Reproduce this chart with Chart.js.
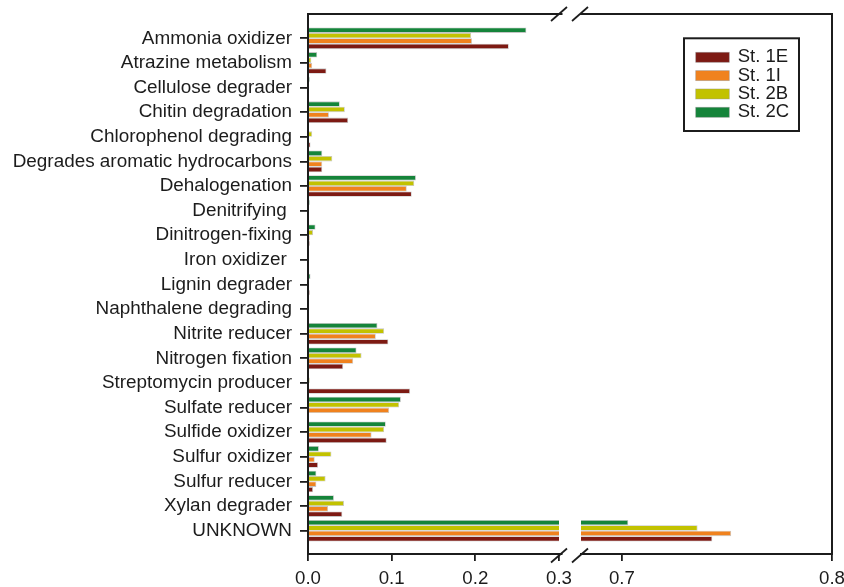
<!DOCTYPE html>
<html>
<head>
<meta charset="utf-8">
<script src="https://cdn.jsdelivr.net/npm/chart.js@4.4.1/dist/chart.umd.min.js"></script>
<style>
  html, body { margin: 0; padding: 0; background: #fff; overflow: hidden; }
  #wrap { position: absolute; left: 0; top: 0; width: 844px; height: 587px; }
  canvas { display: block; position: absolute; top: 0; }
  #left { left: 0; }
  #right { left: 570px; }
</style>
</head>
<body>
<div id="wrap">
  <canvas id="left" width="580" height="587"></canvas>
  <canvas id="right" width="274" height="587"></canvas>
</div>
<script>
// Categories, top to bottom
const categories = [
  'Ammonia oxidizer', 'Atrazine metabolism', 'Cellulose degrader', 'Chitin degradation',
  'Chlorophenol degrading', 'Degrades aromatic hydrocarbons', 'Dehalogenation', 'Denitrifying ',
  'Dinitrogen-fixing', 'Iron oxidizer ', 'Lignin degrader', 'Naphthalene degrading',
  'Nitrite reducer', 'Nitrogen fixation', 'Streptomycin producer', 'Sulfate reducer',
  'Sulfide oxidizer', 'Sulfur oxidizer', 'Sulfur reducer', 'Xylan degrader', 'UNKNOWN'
];

// Values per station (same order as categories)
const st1E = [0.240, 0.022, 0, 0.048, 0.003, 0.017, 0.124, 0, 0.002, 0, 0.002, 0,
              0.096, 0.042, 0.122, 0, 0.094, 0.012, 0.006, 0.041, 0.743];
const st1I = [0.196, 0.005, 0, 0.025, 0, 0.017, 0.118, 0, 0.002, 0, 0.001, 0,
              0.081, 0.054, 0, 0.097, 0.076, 0.008, 0.010, 0.024, 0.752];
const st2B = [0.195, 0.004, 0, 0.044, 0.005, 0.029, 0.127, 0, 0.006, 0, 0.001, 0,
              0.091, 0.064, 0.002, 0.109, 0.091, 0.028, 0.021, 0.043, 0.736];
const st2C = [0.261, 0.011, 0.002, 0.038, 0, 0.017, 0.129, 0.002, 0.009, 0, 0.003, 0,
              0.083, 0.058, 0, 0.111, 0.093, 0.013, 0.010, 0.031, 0.703];

const seriesNames = ['St. 1E', 'St. 1I', 'St. 2B', 'St. 2C'];
const seriesColors = ['#7d1a13', '#f0821e', '#c2c200', '#15843a'];

// Tick labels of the two panels of the broken x axis
const leftTicks = [0.0, 0.1, 0.2, 0.3];
const rightTicks = [0.7, 0.8];

const INK = '#1c1c1c';
const FONT = "'Liberation Sans', Arial, Helvetica, sans-serif";
const EDGE = 'rgba(140,140,140,0.5)';

Chart.defaults.font.family = FONT;
Chart.defaults.color = INK;

function buildDatasets() {
  const values = [st1E, st1I, st2B, st2C];
  // St. 2C at the top of each group, St. 1E at the bottom
  return [3, 2, 1, 0].map(k => ({
    label: seriesNames[k],
    data: values[k].map((v, i) => ({ x: v, y: i })),
    backgroundColor: seriesColors[k],
    borderColor: EDGE,
    borderWidth: 0.8,
    categoryPercentage: 0.88,
    barPercentage: 1.0
  }));
}

function yScale(showLabels) {
  return {
    type: 'linear',
    reverse: true,
    offset: false,
    min: -0.987,
    max: 20.946,
    position: showLabels ? 'left' : 'right',
    afterBuildTicks: s => { s.ticks = categories.map((c, i) => ({ value: i })); },
    afterFit: s => { s.width = showLabels ? 308 : 0; s.paddingTop = 0; s.paddingBottom = 0; },
    border: { display: false },
    grid: { offset: false, drawOnChartArea: false, drawTicks: showLabels, tickLength: 8, lineWidth: 1.8, color: INK },
    ticks: { display: showLabels, autoSkip: false, padding: 8, font: { size: 18.9 }, color: INK,
             callback: v => categories[v] }
  };
}

function xScale(ticks, min, max) {
  return {
    type: 'linear',
    min: min,
    max: max,
    offset: false,
    afterBuildTicks: s => { s.ticks = ticks.map(v => ({ value: v })); },
    afterFit: s => { s.height = 33; s.paddingLeft = 0; s.paddingRight = 0; },
    border: { display: false },
    grid: { offset: false, drawOnChartArea: false, tickLength: 7, lineWidth: 1.8, color: INK },
    ticks: { padding: 7, font: { size: 18.7 }, color: INK, maxRotation: 0, autoSkip: false,
             callback: v => v.toFixed(1) }
  };
}

// axis frame and the // break marks
const framePlugin = {
  id: 'frame',
  afterDraw(chart, args, opts) {
    const { ctx, chartArea: a } = chart;
    ctx.save();
    ctx.strokeStyle = INK;
    ctx.lineWidth = 2;
    ctx.beginPath();
    ctx.moveTo(a.left - opts.extLeft, a.top);
    ctx.lineTo(a.right + opts.extRight, a.top);
    ctx.moveTo(a.left - opts.extLeft, a.bottom);
    ctx.lineTo(a.right + opts.extRight, a.bottom);
    ctx.stroke();

    const sx = opts.side === 'left' ? a.left : a.right;
    ctx.beginPath();
    ctx.moveTo(sx, a.top - 1);
    ctx.lineTo(sx, a.bottom + 1);
    ctx.stroke();

    ctx.lineWidth = 1.7;
    const bx = opts.side === 'left' ? a.right : a.left - 1;
    [a.top, a.bottom + 1.5].forEach(y => {
      ctx.beginPath();
      ctx.moveTo(bx - 8, y + 7);
      ctx.lineTo(bx + 8, y - 7);
      ctx.stroke();
    });
    ctx.restore();
  }
};

// boxed legend in the upper right
const legendPlugin = {
  id: 'boxLegend',
  afterDraw(chart) {
    const { ctx, chartArea: a } = chart;
    const w = 115, h = 92.7;
    const left = a.right - 33 - w;
    const top = 38.3;
    ctx.save();
    ctx.strokeStyle = INK;
    ctx.lineWidth = 2;
    ctx.strokeRect(left, top, w, h);
    ctx.font = '18.5px ' + FONT;
    ctx.textBaseline = 'middle';
    seriesNames.forEach((name, i) => {
      const cy = top + 19 + i * 18.33;
      ctx.fillStyle = seriesColors[i];
      ctx.fillRect(left + 11.7, cy - 5, 33.6, 10);
      ctx.strokeStyle = EDGE;
      ctx.lineWidth = 0.8;
      ctx.strokeRect(left + 11.7, cy - 5, 33.6, 10);
      ctx.fillStyle = INK;
      ctx.fillText(name, left + 53.7, cy);
    });
    ctx.restore();
  }
};

// left panel: 0 - 0.3
new Chart(document.getElementById('left'), {
  type: 'bar',
  data: { datasets: buildDatasets() },
  options: {
    indexAxis: 'y',
    responsive: false,
    animation: false,
    layout: { padding: { top: 14, bottom: 0, left: 0, right: 21 } },
    scales: { x: xScale(leftTicks, 0, 0.3), y: yScale(true) },
    plugins: {
      legend: { display: false },
      tooltip: { enabled: false },
      frame: { side: 'left', extLeft: 1, extRight: 3.5 }
    }
  },
  plugins: [framePlugin]
});

// right panel: 0.7 - 0.8
new Chart(document.getElementById('right'), {
  type: 'bar',
  data: { datasets: buildDatasets() },
  options: {
    indexAxis: 'y',
    responsive: false,
    animation: false,
    layout: { padding: { top: 14, bottom: 0, left: 11, right: 12 } },
    scales: { x: xScale(rightTicks, 0.6805, 0.8), y: yScale(false) },
    plugins: {
      legend: { display: false },
      tooltip: { enabled: false },
      frame: { side: 'right', extLeft: 1, extRight: 1 }
    }
  },
  plugins: [framePlugin, legendPlugin]
});
</script>
</body>
</html>
